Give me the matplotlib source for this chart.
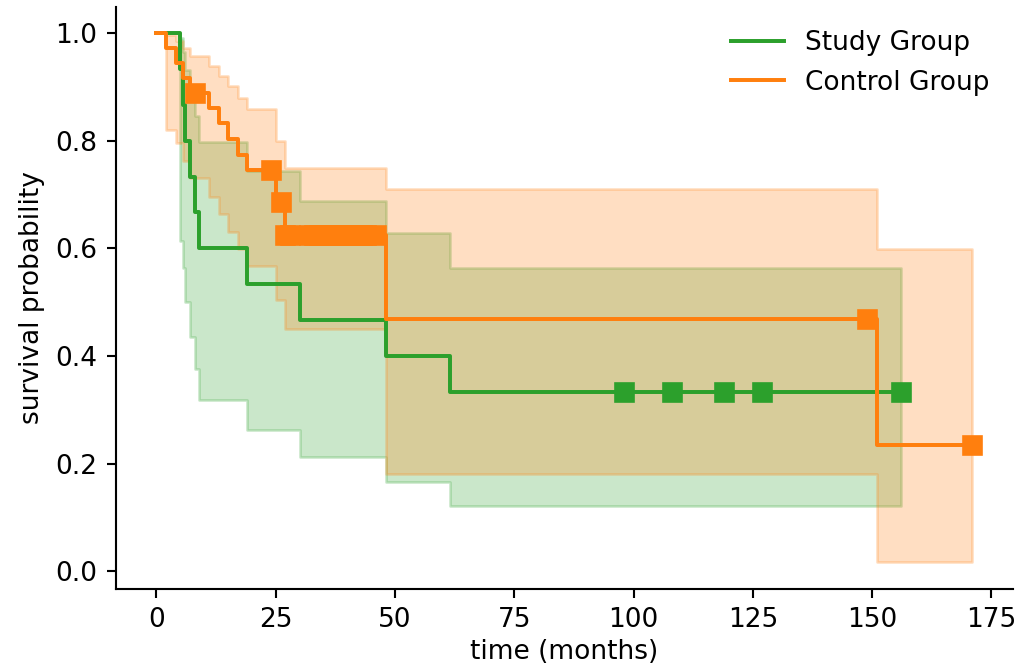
import matplotlib
matplotlib.use("Agg")
import matplotlib.pyplot as plt
import numpy as np

# Kaplan-Meier step values (time in months)
study_times = [0, 5, 5.5, 6, 7, 8, 9, 19, 30, 48, 61.5, 156]
study_surv = [1.0, 0.933, 0.867, 0.800, 0.733, 0.667, 0.600, 0.533, 0.467, 0.400, 0.333, 0.333]
study_lower = [1.0, 0.613, 0.564, 0.500, 0.436, 0.375, 0.318, 0.263, 0.212, 0.165, 0.122, 0.122]
study_upper = [1.0, 0.990, 0.965, 0.931, 0.891, 0.846, 0.797, 0.744, 0.688, 0.628, 0.564, 0.564]
study_censored = [98, 108, 119, 127, 156]

control_times = [0, 2, 4, 5.5, 7, 11, 13, 15, 17, 19, 25, 27, 48, 151, 171]
control_surv = [1.0, 0.972, 0.944, 0.917, 0.889, 0.860, 0.832, 0.803, 0.774, 0.746,
                0.686, 0.624, 0.468, 0.234, 0.234]
control_lower = [1.0, 0.819, 0.796, 0.763, 0.731, 0.696, 0.663, 0.630, 0.599, 0.568,
                 0.504, 0.450, 0.180, 0.018, 0.018]
control_upper = [1.0, 0.996, 0.986, 0.972, 0.957, 0.939, 0.921, 0.901, 0.880, 0.859,
                 0.800, 0.750, 0.710, 0.598, 0.598]
control_censored = [8, 24, 26, 27, 28, 32, 33, 34, 35, 36, 37, 38, 39, 40, 41, 42, 43,
                    44, 46, 149, 171]


def km_plot(ax, times, surv, lower, upper, censored, color, label):
    times = np.asarray(times, dtype=float)
    surv = np.asarray(surv, dtype=float)
    ax.plot(times, surv, drawstyle='steps-post', color=color, lw=1.5, label=label)
    # censor marks sit on the curve value at that time
    idx = np.searchsorted(times, censored, side='right') - 1
    ax.plot(censored, surv[idx], ls='none', marker='s', ms=6.5, color=color)
    ax.fill_between(times, lower, upper, step='post', color=color,
                    alpha=0.25, linewidth=1.0)


fig = plt.figure(figsize=(1017 / 190, 667 / 190), dpi=190)
ax = fig.add_axes([0.114, 0.117, 0.882, 0.873])

km_plot(ax, study_times, study_surv, study_lower, study_upper, study_censored,
        '#2ca02c', 'Study Group')
km_plot(ax, control_times, control_surv, control_lower, control_upper, control_censored,
        '#ff7f0e', 'Control Group')

ax.set_xlim(-8.5, 179.5)
ax.set_ylim(-0.033, 1.049)
ax.set_xticks([0, 25, 50, 75, 100, 125, 150, 175])
ax.set_yticks([0.0, 0.2, 0.4, 0.6, 0.8, 1.0])
ax.set_xlabel('time (months)', labelpad=2)
ax.set_ylabel('survival probability')
ax.spines['top'].set_visible(False)
ax.spines['right'].set_visible(False)
ax.legend(loc='upper right', frameon=False)

fig.savefig('out.png', dpi=190)
